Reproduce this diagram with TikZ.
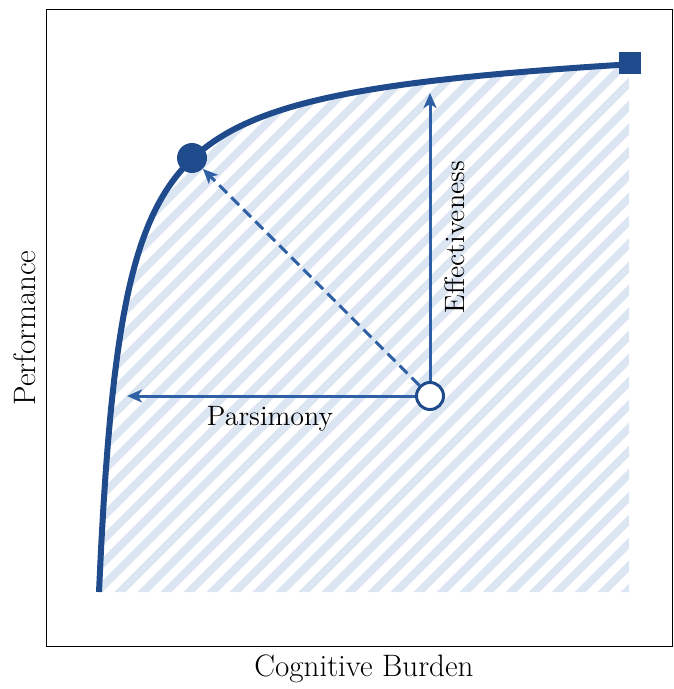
\documentclass[tikz,border=0pt]{standalone}
\usetikzlibrary{arrows.meta}
\definecolor{curveblue}{RGB}{31,75,140}
\definecolor{arrowblue}{RGB}{47,96,166}
\definecolor{hatchblue}{RGB}{220,230,243}
\tikzset{
  curveline/.style={draw=curveblue, line width=3pt, line join=round},
  guide/.style={draw=arrowblue, line width=1.5pt, -{Stealth[length=7.5pt,width=6.5pt,inset=2pt]}},
  axislabel/.style={font=\fontsize{15.5}{18}\selectfont, inner sep=0pt},
  innerlabel/.style={font=\fontsize{14}{16}\selectfont, inner sep=0pt},
  hatch/.style={draw=hatchblue, line width=3.9pt},
}
\def\frontier{plot[domain=0:530, samples=240, variable=\u] ({99+\u},{592-(540*(\u/(\u+23.5))+0.02*\u)})}
\begin{document}
\begin{tikzpicture}[x=0.5pt,y=-0.5pt]
\useasboundingbox (0,0) rectangle (673,689);
% hatched feasible region
\begin{scope}
  \clip \frontier -- (629,592) -- cycle;
  \foreach \c in {-713,-690,...,700} {
    \draw[hatch] (\c,620) -- (\c+660,-40);
  }
\end{scope}
% frame
\draw[black, line width=0.5pt] (46,10) rectangle (672,646);
% frontier curve
\draw[curveline] \frontier;
% markers
\node[draw=none, fill=curveblue, minimum size=11pt, inner sep=0pt] (best) at (630,63) {};
\node[circle, fill=curveblue, minimum size=15pt, inner sep=0pt] (opt) at (192,158) {};
\node[circle, draw=curveblue, line width=1.5pt, fill=white, minimum size=13.5pt, inner sep=0pt] (cur) at (430,396) {};
\coordinate (parsend) at (127,396);
\coordinate (effend) at (430,93);
% guide arrows
\draw[guide] (cur.west) -- (parsend);
\draw[guide] (cur.north) -- (effend);
\draw[guide, dash pattern=on 5.5pt off 3pt] (cur.135) -- (opt);
% labels
\node[innerlabel] (parslabel) at (270,419) {Parsimony};
\node[innerlabel, rotate=90] (efflabel) at (455,237) {Effectiveness};
\node[axislabel, rotate=90] (ylabel) at (25,328) {Performance};
\node[axislabel] (xlabel) at (364,669) {Cognitive Burden};
\end{tikzpicture}
\end{document}
